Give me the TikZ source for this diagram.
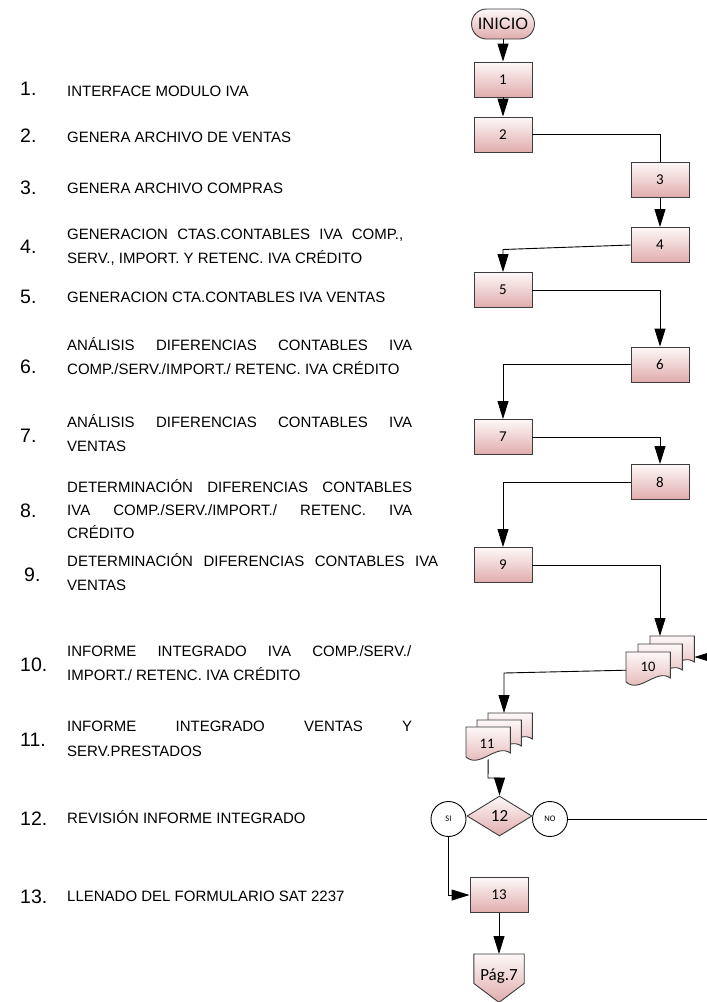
\documentclass[tikz,border=0pt]{standalone}
\usepackage{fontspec}
\setmainfont{Liberation Sans}
\newfontfamily\flowfont{Carlito}
\usetikzlibrary{arrows.meta,shapes.geometric,calc}

\definecolor{shtop}{RGB}{253,248,248}
\definecolor{shbot}{RGB}{225,172,172}
\definecolor{edgegray}{RGB}{60,60,60}

\tikzset{
  shaded/.style={draw=edgegray, line width=0.9pt, top color=shtop, bottom color=shbot},
  procbox/.style={shaded, minimum width=58pt, minimum height=35pt, inner sep=0pt,
    font=\flowfont\fontsize{15}{15}\selectfont},
  sheetframe/.style={minimum width=44pt, minimum height=32pt, inner sep=0pt, anchor=north west},
  joinline/.style={draw=black, line width=0.9pt},
  flow/.style={joinline, -{Triangle[width=11pt,length=18pt]}},
  circ/.style={circle, draw=black, line width=0.9pt, fill=white, minimum size=35pt,
    inner sep=0pt, font=\flowfont\fontsize{8.5}{8.5}\selectfont},
  doclabel/.style={inner sep=0pt, font=\flowfont\fontsize{14.5}{14.5}\selectfont},
  numtxt/.style={anchor=base west, inner sep=0pt, font=\fontsize{19.5}{19.5}\selectfont},
  desc/.style={anchor=base west, inner sep=0pt, font=\fontsize{15}{15}\selectfont},
}

% one sheet of a multi-document symbol: #1 top-left corner, #2 name
\newcommand\docsheet[2]{%
  \node[sheetframe] (#2) at (#1) {};
  \path[shaded] (#2.north west) -- (#2.north east) -- ($(#2.north east)+(0,26)$)
    .. controls ($(#2.north west)+(30,16)$) and ($(#2.north west)+(14,42)$) ..
    ($(#2.north west)+(0,30)$) -- cycle;
}

\begin{document}\frenchspacing
\begin{tikzpicture}[x=1pt,y=-1pt]
\useasboundingbox (0,0) rectangle (707,1002);
\clip (0,0) rectangle (707,1002);
\fill[white] (0,0) rectangle (707,1002);

% ---------- numbered list ----------
\node[numtxt] (n1) at (20,95) {1.};
\node[desc] (t1) at (67,96.5) {INTERFACE MODULO IVA};
\node[numtxt] (n2) at (20,142) {2.};
\node[desc] (t2) at (67,142) {GENERA ARCHIVO DE VENTAS};
\node[numtxt] (n3) at (20,194) {3.};
\node[desc] (t3) at (67,193) {GENERA ARCHIVO COMPRAS};
\node[numtxt] (n4) at (20,253) {4.};
\node[desc] (t4a) at (67,239.5) {\makebox[336pt][s]{GENERACION CTAS.CONTABLES IVA COMP.,}};
\node[desc] (t4b) at (67,263.5) {SERV., IMPORT. Y RETENC. IVA CRÉDITO};
\node[numtxt] (n5) at (20,303) {5.};
\node[desc] (t5) at (67,302.5) {GENERACION CTA.CONTABLES IVA VENTAS};
\node[numtxt] (n6) at (20,373) {6.};
\node[desc] (t6a) at (67,350.5) {\makebox[345pt][s]{ANÁLISIS DIFERENCIAS CONTABLES IVA}};
\node[desc] (t6b) at (67,374.5) {COMP./SERV./IMPORT./ RETENC. IVA CRÉDITO};
\node[numtxt] (n7) at (20,442) {7.};
\node[desc] (t7a) at (67,427.5) {\makebox[345pt][s]{ANÁLISIS DIFERENCIAS CONTABLES IVA}};
\node[desc] (t7b) at (67,451.5) {VENTAS};
\node[numtxt] (n8) at (20,517) {8.};
\node[desc] (t8a) at (67,492.5) {\makebox[345pt][s]{DETERMINACIÓN DIFERENCIAS CONTABLES}};
\node[desc] (t8b) at (67,515.5) {\makebox[345pt][s]{IVA COMP./SERV./IMPORT./ RETENC. IVA}};
\node[desc] (t8c) at (67,538.5) {CRÉDITO};
\node[numtxt] (n9) at (24,581) {9.};
\node[desc] (t9a) at (67,566.5) {\makebox[371pt][s]{DETERMINACIÓN DIFERENCIAS CONTABLES IVA}};
\node[desc] (t9b) at (67,590.5) {VENTAS};
\node[numtxt] (n10) at (20,671) {10.};
\node[desc] (t10a) at (67,656.5) {\makebox[344pt][s]{INFORME INTEGRADO IVA COMP./SERV./}};
\node[desc] (t10b) at (67,680.5) {IMPORT./ RETENC. IVA CRÉDITO};
\node[numtxt] (n11) at (20,746) {11.};
\node[desc] (t11a) at (67,731.5) {\makebox[345pt][s]{INFORME INTEGRADO VENTAS Y}};
\node[desc] (t11b) at (67,756.5) {SERV.PRESTADOS};
\node[numtxt] (n12) at (20,825) {12.};
\node[desc] (t12) at (67,823.5) {REVISIÓN INFORME INTEGRADO};
\node[numtxt] (n13) at (20,903) {13.};
\node[desc] (t13) at (67,901.5) {LLENADO DEL FORMULARIO SAT 2237};

% ---------- flowchart ----------
\node[shaded, rounded corners=15pt, minimum width=63pt, minimum height=30pt, inner sep=0pt,
  font=\fontsize{16.5}{16.5}\selectfont] (ini) at (503,24) {INICIO};
\node[procbox] (b1) at (503,79.5) {1};
\node[procbox] (b2) at (503,134.5) {2};
\node[procbox] (b3) at (660,180) {3};
\node[procbox] (b4) at (660,245) {4};
\node[procbox] (b5) at (503,290) {5};
\node[procbox] (b6) at (660,364.5) {6};
\node[procbox] (b7) at (503,437) {7};
\node[procbox] (b8) at (660,482) {8};
\node[procbox] (b9) at (503,565) {9};

% multi-document 10
\docsheet{650,636}{d10a}
\docsheet{638,644}{d10b}
\docsheet{626,652}{d10c}
\node[doclabel] (l10) at (648,667) {10};

% multi-document 11
\docsheet{488,713}{d11a}
\docsheet{477,720}{d11b}
\docsheet{466,727}{d11c}
\node[doclabel] (l11) at (487,744) {11};

% decision 12 with its outcomes
\node[diamond, shaded, minimum width=65pt, minimum height=40pt, inner sep=0pt,
  font=\flowfont\fontsize{17}{17}\selectfont] (dia) at (499.5,816) {12};
\node[circ] (si) at (448.5,819) {SI};
\node[circ] (no) at (550,819) {NO};

\node[procbox] (b13) at (499,895) {13};

% off-page connector
\node[minimum width=50pt, minimum height=29pt, inner sep=0pt, anchor=north] (pg) at (499,954) {};
\path[shaded] (pg.north west) -- (pg.north east) -- (pg.south east)
  -- ($(pg.south)+(0,19)$) -- (pg.south west) -- cycle;
\node[inner sep=0pt, font=\flowfont\fontsize{17}{17}\selectfont] (pgtxt) at (499,976) {Pág.7};

% ---------- connectors ----------
\draw[flow] (ini.south) -- (b1.north);
\draw[flow] (b1.south) -- (b2.north);
\draw[joinline] (b2.east) -| (b3.north);
\draw[flow] (b3.south) -- (b4.north);
\coordinate (k45) at (503,249.5);
\draw[flow] (b4.west) -- (k45) -- (b5.north);
\draw[flow] (b5.east) -| (b6.north);
\draw[flow] (b6.west) -| (b7.north);
\draw[flow] (b7.east) -| (b8.north);
\draw[flow] (b8.west) -| (b9.north);
\draw[flow] (b9.east) -| ([xshift=10pt]d10a.north west);
\coordinate (k1011) at (504,673);
\draw[flow] ([yshift=-2pt]d10c.west) -- (k1011) -- ([xshift=16pt]d11a.north west);
\coordinate (k1112) at (488,778);
\draw[flow] (d11c.south) -- (k1112) -| (dia.north);
\draw[flow] (si.south) |- (b13.west);
\coordinate (noR) at (716,819);
\coordinate (noT) at (716,657);
\draw[flow] (no.east) -- (noR) -- (noT) -- (noT -| d10a.east);
\draw[flow] (b13.south) -- (pg.north);
\end{tikzpicture}
\end{document}
